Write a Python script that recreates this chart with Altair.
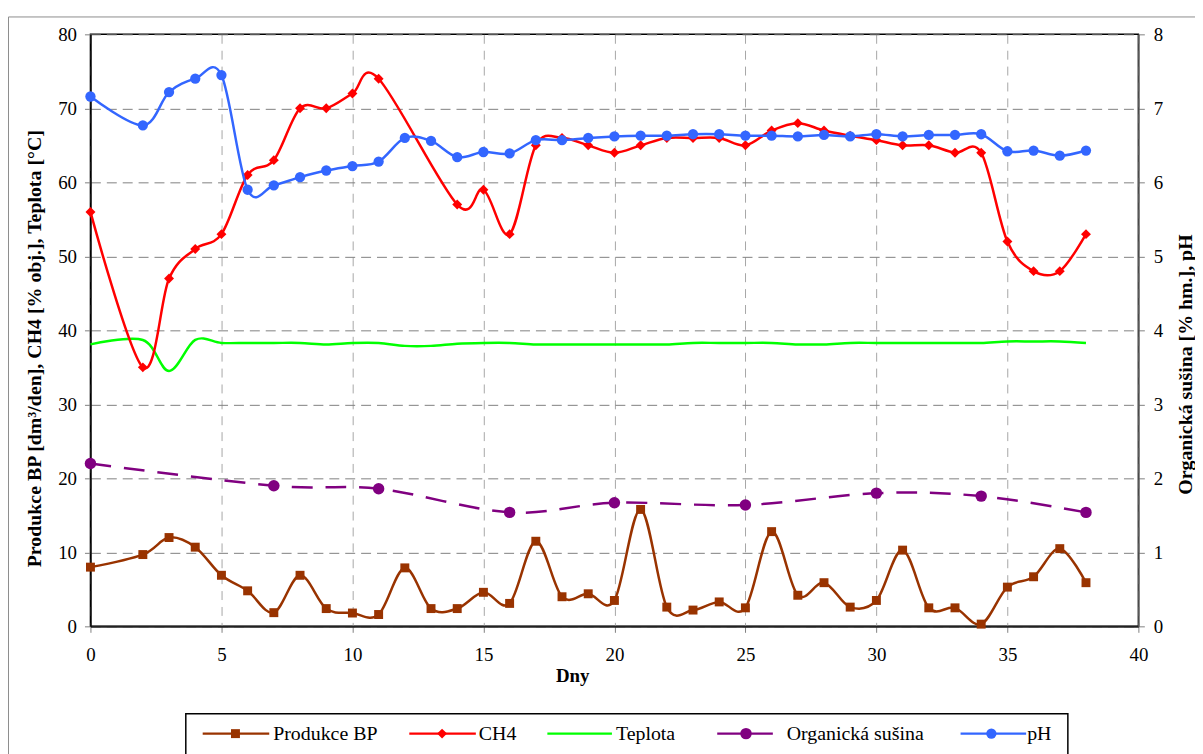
import altair as alt
import pandas as pd

# ---------------- data ----------------
days = [0] + list(range(2, 39))
produkce_bp = [8.0, 9.7, 12.0, 10.7, 6.9, 4.8, 1.85, 6.9, 2.4, 1.8, 1.6, 7.9, 2.4, 2.4,
               4.6, 3.1, 11.5, 4.0, 4.4, 3.5, 15.8, 2.6, 2.2, 3.3, 2.5, 12.8, 4.2, 5.9,
               2.6, 3.5, 10.3, 2.5, 2.5, 0.3, 5.3, 6.7, 10.5, 5.9]
ch4_days = [0] + list(range(2, 12)) + list(range(14, 39))
ch4 = [56, 35, 47, 51, 53, 61, 63, 70, 70, 72, 74, 57, 59, 53, 65, 66, 65, 64,
       65, 66, 66, 66, 65, 67, 68, 67, 66.3, 65.7, 65, 65, 64, 64, 52, 48, 48, 53]
teplota = [38.1, 38.7, 34.5, 38.7, 38.3, 38.3, 38.3, 38.3, 38.1, 38.3, 38.3, 37.9, 37.9,
           38.2, 38.3, 38.3, 38.1, 38.1, 38.1, 38.1, 38.1, 38.1, 38.3, 38.3, 38.3, 38.3,
           38.1, 38.1, 38.3, 38.3, 38.3, 38.3, 38.3, 38.3, 38.5, 38.5, 38.5, 38.3]
susina_days = [0, 7, 11, 16, 20, 25, 30, 34, 38]
susina = [2.2, 1.9, 1.86, 1.54, 1.67, 1.64, 1.8, 1.76, 1.54]
ph = [7.16, 6.77, 7.22, 7.40, 7.45, 5.90, 5.96, 6.07, 6.16, 6.22, 6.28, 6.60, 6.56, 6.34,
      6.41, 6.39, 6.57, 6.57, 6.60, 6.62, 6.63, 6.63, 6.65, 6.65, 6.63, 6.63, 6.62, 6.64,
      6.62, 6.65, 6.62, 6.64, 6.64, 6.65, 6.42, 6.43, 6.36, 6.43]

x_ticks = list(range(0, 41, 5))
left_ticks = list(range(0, 81, 10))
right_ticks = list(range(0, 9))
legend_labels = ["Produkce BP", "CH4", "Teplota", "Organická sušina", "pH"]

# ---------------- styles / layout ----------------
BROWN, RED, GREEN, PURPLE, BLUE = "#993300", "#FF0000", "#00FF00", "#800080", "#3366FF"
FONT = "Liberation Serif, Times New Roman, serif"
W, H = 1055, 596
LW = 2.5

legend_colors = [BROWN, RED, GREEN, PURPLE, BLUE]
legend_shapes = ["square", "diamond", None, "circle", "circle"]
legend_sizes = [81, 100, 0, 133, 107]
legend_line_x = [(113, 180), (321, 388), (460, 525), (631, 687), (876, 942)]
legend_marker_x = [146, 354, None, 660, 907]
legend_text_x = [184, 391, 529, 701, 943]
legend_y = 704

df_bp = pd.DataFrame({"day": days, "v": produkce_bp})
df_ch4 = pd.DataFrame({"day": ch4_days, "v": ch4})
df_t = pd.DataFrame({"day": days, "v": teplota})
df_s = pd.DataFrame({"day": susina_days, "v": susina})
df_ph = pd.DataFrame({"day": days, "v": ph})
one = pd.DataFrame({"k": [0]})

x_axis = alt.Axis(values=x_ticks, title="Dny", grid=True, gridColor="#a6a6a6",
                  gridDash=[9, 7], gridWidth=1, labelFlush=False, labelPadding=13,
                  domainColor="#222222", domainWidth=2, titleFontSize=19,
                  titleX=485, titleY=50, titleBaseline="middle", titleAlign="center")
x_enc = alt.X("day:Q", scale=alt.Scale(domain=[0, 40], nice=False, zero=False), axis=x_axis)

left_axis = alt.Axis(values=left_ticks, orient="left", grid=True, gridColor="#808080",
                     gridDash=[10, 6], gridWidth=1, labelPadding=8, domainColor="black",
                     domainWidth=1.5,
                     title="Produkce BP [dm³/den], CH4 [% obj.],  Teplota [°C]",
                     titleAngle=270, titleX=-56, titleY=316, titleAlign="center",
                     titleBaseline="middle")
y_left = alt.Y("v:Q", scale=alt.Scale(domain=[0, 80], nice=False), axis=left_axis)

right_axis = alt.Axis(values=right_ticks, orient="right", grid=False, labelPadding=9,
                      domainColor="#555555", domainWidth=1.5,
                      title="Organická sušina [% hm.], pH",
                      titleAngle=270, titleX=47, titleY=332, titleAlign="center",
                      titleBaseline="middle")
y_right = alt.Y("v:Q", scale=alt.Scale(domain=[0, 8], nice=False), axis=right_axis)


def line(df, color, y, dash=None):
    kw = dict(color=color, strokeWidth=LW, interpolate="cardinal")
    if dash:
        kw["strokeDash"] = dash
    return alt.Chart(df).mark_line(**kw).encode(x=x_enc, y=y)


def pts(df, color, y, shape, size):
    return alt.Chart(df).mark_point(filled=True, shape=shape, size=size, color=color,
                                    opacity=1).encode(x=x_enc, y=y)


left = alt.layer(
    line(df_t, GREEN, y_left),
    line(df_bp, BROWN, y_left),
    pts(df_bp, BROWN, y_left, "square", 81),
    line(df_ch4, RED, y_left),
    pts(df_ch4, RED, y_left, "diamond", 100),
)
right = alt.layer(
    line(df_s, PURPLE, y_right, dash=[21, 13]),
    pts(df_s, PURPLE, y_right, "circle", 133),
    line(df_ph, BLUE, y_right),
    pts(df_ph, BLUE, y_right, "circle", 107),
)

frame = alt.Chart(one).mark_rect(fillOpacity=0, stroke="#8c8c8c", strokeWidth=1).encode(
    x=alt.value(-82.5), x2=alt.value(1300), y=alt.value(-17.5), y2=alt.value(900))

legend_layers = [alt.Chart(one).mark_rect(fillOpacity=0, stroke="black", strokeWidth=1.5).encode(
    x=alt.value(96), x2=alt.value(984), y=alt.value(684), y2=alt.value(900))]
for lab, col, shp, sz, (lx0, lx1), mx, tx in zip(legend_labels, legend_colors, legend_shapes,
                                               legend_sizes, legend_line_x, legend_marker_x,
                                               legend_text_x):
    legend_layers.append(alt.Chart(one).mark_rule(color=col, strokeWidth=LW).encode(
        x=alt.value(lx0), x2=alt.value(lx1), y=alt.value(legend_y)))
    if shp:
        legend_layers.append(alt.Chart(one).mark_point(
            filled=True, shape=shp, size=sz, color=col, opacity=1).encode(
            x=alt.value(mx), y=alt.value(legend_y)))
    legend_layers.append(alt.Chart(pd.DataFrame({"t": [lab]})).mark_text(
        font=FONT, fontSize=20, align="left", baseline="middle", color="black").encode(
        x=alt.value(tx), y=alt.value(legend_y), text="t:N"))

chart = alt.layer(frame, left, right, *legend_layers).resolve_scale(y="independent").properties(
    width=W, height=H,
    autosize=alt.AutoSizeParams(type="none"),
    padding={"left": 83, "top": 24, "right": 57, "bottom": 126},
    background="white",
).configure_view(stroke="black", strokeWidth=1.5).configure_axis(
    labelFont=FONT, labelFontSize=19, labelColor="black",
    titleFont=FONT, titleFontSize=20, titleFontWeight="bold", titleColor="black",
    tickColor="#808080", tickSize=6, tickWidth=1,
)

chart.save("out.html", embed_options={"renderer": "svg", "actions": False})
